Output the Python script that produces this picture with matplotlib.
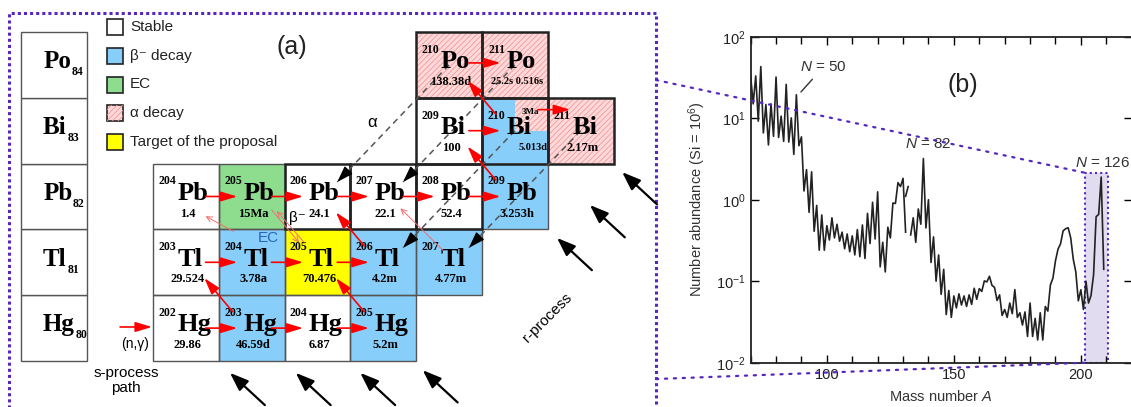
import numpy as np
import matplotlib.pyplot as plt
from matplotlib.patches import Rectangle, ConnectionPatch

plt.rcParams['font.family'] = ['Liberation Sans', 'DejaVu Sans']
plt.rcParams['mathtext.fontset'] = 'custom'
plt.rcParams['mathtext.rm'] = 'Liberation Sans'
plt.rcParams['mathtext.it'] = 'Liberation Sans:italic'
plt.rcParams['hatch.linewidth'] = 0.6

SERIF = ['Liberation Serif', 'DejaVu Serif']
PURPLE = '#5526C0'

# ---------------- (a) chart of nuclides ----------------
nuc_sym = ['Hg', 'Hg', 'Hg', 'Hg',
           'Tl', 'Tl', 'Tl', 'Tl', 'Tl',
           'Pb', 'Pb', 'Pb', 'Pb', 'Pb', 'Pb',
           'Bi', 'Bi', 'Bi',
           'Po', 'Po']
nuc_Z = [80] * 4 + [81] * 5 + [82] * 6 + [83] * 3 + [84] * 2
nuc_A = [202, 203, 204, 205,
         203, 204, 205, 206, 207,
         204, 205, 206, 207, 208, 209,
         209, 210, 211,
         210, 211]
nuc_info = ['29.86', '46.59d', '6.87', '5.2m',
            '29.524', '3.78a', '70.476', '4.2m', '4.77m',
            '1.4', '15Ma', '24.1', '22.1', '52.4', '3.253h',
            '100', '5.013d', '2.17m',
            '138.38d', '25.2s 0.516s']
nuc_kind = ['stable', 'beta', 'stable', 'beta',
            'stable', 'beta', 'target', 'beta', 'beta',
            'stable', 'ec', 'stable', 'stable', 'stable', 'beta',
            'stable', 'beta', 'alpha',
            'alpha', 'alpha']
bi210m_info = '3Ma'

elements = ['Hg', 'Tl', 'Pb', 'Bi', 'Po']
element_Z = [80, 81, 82, 83, 84]

legend_kinds = ['stable', 'beta', 'ec', 'alpha', 'target']
legend_labels = ['Stable', 'β⁻ decay', 'EC', 'α decay', 'Target of the proposal']

# neutron captures (Z, A of the target nucleus)
ng_Z = [80, 80, 80, 81, 81, 81, 82, 82, 82, 82, 82, 83, 83, 84]
ng_A = [202, 203, 204, 203, 204, 205, 204, 205, 206, 207, 208, 209, 210, 210]
# beta decays (parent)
beta_Z = [80, 80, 81, 82, 83]
beta_A = [203, 205, 206, 209, 210]
weak_Z = [81, 81]
weak_A = [204, 207]
# alpha decays (parent)
alpha_Z = [84, 84, 83, 83]
alpha_A = [210, 211, 210, 211]

kind_color = {'stable': 'white', 'beta': '#87CEFA', 'ec': '#8EDC8E',
              'alpha': '#FFD9D9', 'target': '#FFFF00'}

# ---------------- (b) abundance curve ----------------
mass_A = np.arange(70, 210)
abund = [33, 15, 33, 9.2, 43, 6.6, 14.7, 4.7, 15, 6.0,
         32, 5.8, 10.6, 5.2, 26, 5.1, 10.1, 3.6, 19.4, 4.6,
         5.9, 1.28, 2.34, 0.70, 2.2, 0.41, 0.85, 0.24, 0.65, 0.24,
         0.48, 0.32, 0.60, 0.34, 0.50, 0.31, 0.40, 0.25, 0.38, 0.23,
         0.36, 0.21, 0.43, 0.20, 0.49, 0.19, 0.68, 0.29, 0.93, 0.33,
         1.25, 0.15, 0.30, 0.13, 0.46, 0.34, 0.91, 0.90, 1.62, 1.45,
         1.83, 0.40, np.nan, 0.37, 0.60, 0.30, 0.77, 0.50, 3.2, 0.45,
         1.0, 0.17, 0.35, 0.10, 0.21, 0.069, 0.14, 0.039, 0.077, 0.036,
         0.066, 0.047, 0.070, 0.051, 0.066, 0.049, 0.068, 0.052, 0.082, 0.060,
         0.081, 0.075, 0.101, 0.098, 0.115, 0.089, 0.084, 0.058, 0.068, 0.038,
         0.045, 0.036, 0.054, 0.040, 0.079, 0.036, 0.041, 0.029, 0.042, 0.021,
         0.054, 0.021, 0.035, 0.019, 0.041, 0.019, 0.049, 0.043, 0.090, 0.109,
         0.178, 0.247, 0.288, 0.414, 0.441, 0.453, 0.34, 0.187, 0.13, 0.0575,
         0.0785, 0.045, 0.10, 0.054, 0.067, 0.12, 0.62, 0.66, 1.9, 0.14]
xe_A = [131, 132]
xe_abund = [1.1, 1.45]
shell_labels = ['$N$ = 50', '$N$ = 82', '$N$ = 126']

fig = plt.figure(figsize=(11.31, 4.07), dpi=100)

ax = fig.add_axes([0, 0, 1, 1])
ax.set_xlim(119.675, 136.863)
ax.set_ylim(79.301, 85.486)
ax.axis('off')

RED_HEAD = '-|>,head_length=1.0,head_width=0.3'


def arrow(p0, p1, color='red', lw=1.2, style=RED_HEAD, ms=10, z=4):
    ax.annotate('', xy=p1, xytext=p0, zorder=z,
                arrowprops=dict(arrowstyle=style, color=color, lw=lw,
                                mutation_scale=ms, shrinkA=0, shrinkB=0))


def hatched(x, y, w, h, z=1.1):
    ax.add_patch(Rectangle((x, y), w, h, facecolor='none', edgecolor='#EE9A9A',
                           hatch='//////', lw=0, zorder=z))


# cells
for sym, Z, A, info, kind in zip(nuc_sym, nuc_Z, nuc_A, nuc_info, nuc_kind):
    N = A - Z
    ax.add_patch(Rectangle((N, Z), 1, 1, facecolor=kind_color[kind], edgecolor='none', zorder=1))
    if kind == 'alpha':
        hatched(N, Z, 1, 1)
    if (Z, A) == (83, 210):
        ax.add_patch(Rectangle((N + 0.5, Z + 0.5), 0.5, 0.5, facecolor=kind_color['alpha'],
                               edgecolor='none', zorder=1.05))
        hatched(N + 0.5, Z + 0.5, 0.5, 0.5)
    thick = Z >= 83 or (Z == 82 and 206 <= A <= 208)
    ax.add_patch(Rectangle((N, Z), 1, 1, facecolor='none',
                           edgecolor='#222222' if thick else '#555555',
                           lw=1.8 if thick else 1.0, zorder=1.6 if thick else 1.5))
    ax.text(N + 0.35, Z + 0.73, str(A), ha='right', va='center', fontsize=8.5,
            fontweight='bold', family=SERIF, zorder=3)
    ax.text(N + 0.37, Z + 0.45, sym, ha='left', va='baseline', fontsize=19,
            fontweight='bold', family=SERIF, zorder=3)
    if (Z, A) == (83, 210):
        ax.text(N + 0.77, Z + 0.24, info, ha='center', va='center', fontsize=7.5,
                fontweight='bold', family=SERIF, zorder=3)
        ax.text(N + 0.74, Z + 0.78, bi210m_info, ha='center', va='center', fontsize=6.5,
                fontweight='bold', family=SERIF, zorder=3)
    else:
        ax.text(N + 0.53, Z + 0.24, info, ha='center', va='center',
                fontsize=7.5 if len(info) > 8 else 9,
                fontweight='bold', family=SERIF, zorder=3)

# element column
for el, Z in zip(elements, element_Z):
    ax.add_patch(Rectangle((120, Z), 1, 1, facecolor='white', edgecolor='#555555', lw=1.0))
    t = ax.text(120.33, Z + 0.45, el, ha='left', va='baseline', fontsize=18,
                fontweight='bold', family=SERIF)
    ax.annotate(str(Z), xy=(1, 0), xycoords=t, xytext=(0.5, -1.5), textcoords='offset points',
                ha='left', va='baseline', fontsize=8.5, fontweight='bold', family=SERIF)

# legend
for i, (kind, label) in enumerate(zip(legend_kinds, legend_labels)):
    yc = 85.076 - i * 0.437
    ax.add_patch(Rectangle((121.30, yc - 0.122), 0.243, 0.243, facecolor=kind_color[kind],
                           edgecolor='#222222', lw=1.2, zorder=2))
    if kind == 'alpha':
        hatched(121.30, yc - 0.122, 0.243, 0.243, z=2.1)
    ax.text(121.65, yc, label, ha='left', va='center', fontsize=11, color='#222222')

# alpha decay paths
for Z, A in zip(alpha_Z, alpha_A):
    N = A - Z
    x0, y0 = N + 0.5, Z + 0.5
    x1, y1 = N - 2 + 0.8, Z - 2 + 0.72
    ax.plot([x0, x1], [y0, y1], color='#555555', lw=1.1, dashes=(4, 3), zorder=2)
    d = np.array([x1 - x0, y1 - y0])
    d = d / np.hypot(*d)
    arrow((x1 - 0.2 * d[0], y1 - 0.2 * d[1]), (x1, y1), color='black', lw=1.0,
          style='-|>,head_length=0.9,head_width=0.3', ms=11)

# neutron captures
for Z, A in zip(ng_Z, ng_A):
    N = A - Z
    if (Z, A) == (83, 210):
        arrow((N + 0.85, Z + 0.82), (N + 1.34, Z + 0.82))
    else:
        y = Z + (0.53 if Z == 84 else 0.5)
        arrow((N + 0.80, y), (N + 1.28, y))
arrow((121.50, 80.517), (121.985, 80.517))

# beta decays
for Z, A in zip(beta_Z, beta_A):
    N = A - Z
    arrow((N + 0.21, Z + 0.75), (N - 0.22, Z + 1.26))
THIN = dict(color='#F07070', lw=0.7, style='->', ms=10)
arrow((weak_A[0] - weak_Z[0] + 0.22, weak_Z[0] + 0.97),
      (weak_A[0] - weak_Z[0] - 0.2, weak_Z[0] + 1.20), **THIN)
arrow((weak_A[1] - weak_Z[1] + 0.41, weak_Z[1] + 0.68),
      (weak_A[1] - weak_Z[1] - 0.24, weak_Z[1] + 1.32), **THIN)
arrow((123.80, 82.30), (124.22, 81.80), **THIN)
arrow((124.30, 81.80), (123.88, 82.28), **THIN)

# r-process arrows
r_heads = [(123.17, 79.82), (124.17, 79.82), (125.15, 79.82), (126.10, 79.86),
           (128.14, 81.87), (128.64, 82.37), (129.13, 82.87)]
for hx, hy in r_heads:
    arrow((hx + 0.53, hy - 0.49), (hx, hy), color='black', lw=1.6,
          style='-|>,head_length=0.8,head_width=0.3', ms=14)

ax.text(124.11, 84.77, '(a)', ha='center', va='center', fontsize=18, color='#222222')
ax.text(125.33, 83.63, 'α', ha='center', va='center', fontsize=12)
ax.text(124.19, 82.17, 'β⁻', ha='center', va='center', fontsize=11)
ax.text(123.75, 81.87, 'EC', ha='center', va='center', fontsize=11, color='#2A62B8')
ax.text(121.73, 80.26, '(n,γ)', ha='center', va='center', fontsize=10)
ax.text(121.59, 79.71, 's-process\npath', ha='center', va='center', fontsize=11,
        linespacing=1.1)
ax.text(128.0, 80.65, 'r-process', ha='center', va='center', fontsize=11, rotation=45)

# dotted frame around (a)
ax.plot([119.81, 119.81, 129.645, 129.645], [79.2, 85.289, 85.289, 79.2],
        color=PURPLE, lw=2.2, linestyle=(0, (1, 1)), clip_on=False)

# ---------------- (b) ----------------
axb = fig.add_axes([0.6637, 0.1088, 0.3369, 0.8010])
axb.set_yscale('log')
axb.plot(mass_A, abund, color='#222222', lw=1.2)
axb.plot(xe_A, xe_abund, color='#222222', lw=1.2)
axb.set_xlim(70, 220)
axb.set_ylim(0.01, 100)
axb.add_patch(Rectangle((201.6, 0.01), 9.0, 2.13, facecolor='#E1DCF0', edgecolor=PURPLE,
                        lw=1.5, linestyle=(0, (1, 1.5)), zorder=0.5))
axb.set_xticks([100, 150, 200])
axb.set_xticks(np.arange(70, 221, 10), minor=True)
axb.yaxis.set_minor_locator(plt.NullLocator())
axb.tick_params(which='both', direction='in', top=True, right=True, labelsize=10.5,
                labelcolor='#222222')
axb.tick_params(which='major', length=6, width=1)
axb.tick_params(which='minor', length=5, width=1)
for s in axb.spines.values():
    s.set_linewidth(1.3)
    s.set_color('#222222')
axb.set_xlabel('Mass number $A$', fontsize=10.5, color='#333333', labelpad=5)
axb.set_ylabel('Number abundance (Si = 10$^6$)', fontsize=10.5, color='#333333', labelpad=6)

axb.annotate(shell_labels[0], xy=(89.8, 21), xytext=(98.5, 42), ha='center', va='center',
             fontsize=11, color='#333333',
             arrowprops=dict(arrowstyle='-', lw=1, color='#333333', shrinkA=2, shrinkB=0))
axb.text(139.9, 4.8, shell_labels[1], ha='center', va='center', fontsize=11, color='#333333')
axb.text(208.4, 2.8, shell_labels[2], ha='center', va='center', fontsize=11, color='#333333',
         clip_on=False)
axb.text(153.6, 25.5, '(b)', ha='center', va='center', fontsize=18, color='#222222')

# zoom connectors
for va, yb in [(84.27, 2.14), (79.726, 0.01)]:
    con = ConnectionPatch(xyA=(129.645, va), coordsA=ax.transData,
                          xyB=(201.6, yb), coordsB=axb.transData,
                          color=PURPLE, lw=1.6, linestyle=(0, (1, 3)), zorder=5)
    fig.add_artist(con)

fig.savefig('out.png', dpi=100)
